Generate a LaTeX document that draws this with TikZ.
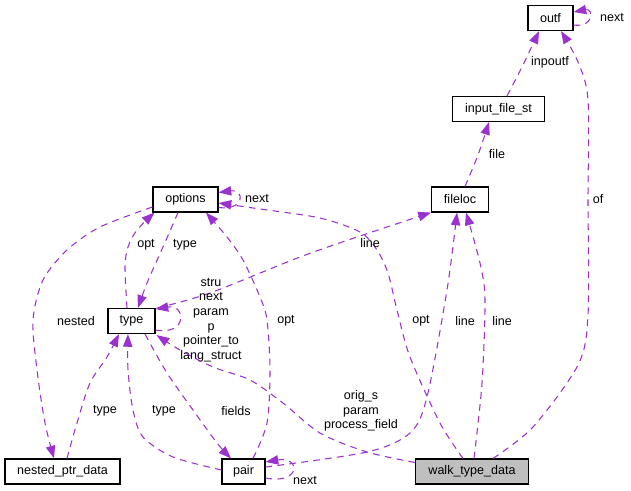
\documentclass[tikz,border=0pt]{standalone}
\usepackage{fontspec}
\setmainfont{Liberation Sans}
\usetikzlibrary{arrows.meta,calc}
\definecolor{edgec}{HTML}{9A32CD}
\definecolor{mainfill}{HTML}{BFBFBF}
\newcommand\lblfont{\fontsize{9.4}{11}\selectfont}
\begin{document}
\begin{tikzpicture}[x=0.75pt,y=-0.75pt,
  box/.style={draw=black, line width=0.85pt, minimum height=18.75pt, inner sep=0pt, font=\lblfont},
  use/.style={draw=edgec, line width=0.8pt, dash pattern=on 5pt off 4pt, -{Triangle[length=9.5pt,width=7pt]}},
  lab/.style={font=\lblfont, inner sep=0pt, align=center}]
\useasboundingbox (0,0) rectangle (631,491);
% nodes
\node[box, minimum width=33.75pt] (outf) at (550.5,18) {outf};
\node[box, minimum width=69pt] (input) at (498.5,109) {input\_file\_st};
\node[box, minimum width=42.75pt] (fileloc) at (460,199.5) {fileloc};
\node[box, minimum width=48.75pt] (options) at (185.5,199.5) {options};
\node[box, minimum width=35.25pt] (type) at (131.5,321) {type};
\node[box, minimum width=86.25pt] (nested) at (62.5,471.5) {nested\_ptr\_data};
\node[box, minimum width=32.25pt] (pair) at (243.5,471.5) {pair};
\node[box, minimum width=84.75pt, fill=mainfill] (walk) at (472,471.5) {walk\_type\_data};
% edges
\draw[use] ($(outf.east)+(0,7)$) .. controls (594,28) and (594,8) .. ($(outf.east)+(0,-6)$);
\node[lab] (l1) at (612,18) {next};
\draw[use] plot[smooth] coordinates {($(input.north)+(8.5,0)$) (523,65) ($(outf.south)+(-11.5,0)$)};
\node[lab] (l2) at (550,62) {inpoutf};
\draw[use] plot[smooth] coordinates {($(fileloc.north)+(5,0)$) (478,155) ($(input.south)+(-9.5,0)$)};
\node[lab] (l3) at (497,154) {file};
\draw[use] plot[smooth] coordinates {($(walk.north)+(21,0)$) (533,427) (578,365) (588,315) (588,200) (588,100) (578,62) ($(outf.south)+(10.5,0)$)};
\node[lab] (l4) at (598,199) {of};
\draw[use] plot[smooth] coordinates {($(walk.north)+(2,0)$) (482,383) (485,300) (480,263) ($(fileloc.south)+(6,0)$)};
\node[lab] (l5) at (502,321) {line};
\draw[use] plot[smooth] coordinates {($(pair.east)+(0,-4.5)$) (367,452) (410,433) (427,397) (447,290) ($(fileloc.south)+(-3,0)$)};
\node[lab] (l6) at (465,321) {line};
\draw[use] plot[smooth] coordinates {($(walk.north)+(-9,0)$) (440,423) (410,357) (397,310) (388,273) (377,250) (360,232) (320,218) (260,209) ($(options.east)+(0,3.5)$)};
\node[lab] (l7) at (421,321) {opt};
\draw[use] plot[smooth] coordinates {($(type.north east)+(2,0)$) (210,293) (300,257) (363,235) ($(fileloc.south west)+(0,0)$)};
\node[lab] (l8) at (370,243) {line};
\draw[use] ($(type.east)+(0,9)$) .. controls (187,336) and (187,304) .. ($(type.east)+(0,-12)$);
\node[lab] (l9) at (211,320) {stru\\next\\param\\p\\pointer\_to\\lang\_struct};
\draw[use] plot[smooth] coordinates {($(walk.west)+(0,-9)$) (367,452) (320,433) (283,403) (250,380) (213,367) (180,350) ($(type.south east)+(1,1)$)};
\node[lab] (l10) at (361,411) {orig\_s\\param\\process\_field};
\draw[use] plot[smooth] coordinates {($(options.south)+(-7.5,0)$) (163,247) (147,283) ($(type.north)+(6.5,0)$)};
\node[lab] (l11) at (185,245) {type};
\draw[use] plot[smooth] coordinates {($(type.north)+(-4.5,0)$) (125,267) (128,247) (137,230) ($(options.south west)+(2,0)$)};
\node[lab] (l12) at (146,245) {opt};
\draw[use] plot[smooth] coordinates {($(options.west)+(0,7.5)$) (100,227) (67,250) (43,280) (33,320) (37,370) (45,423) ($(nested.north)+(-8.5,0)$)};
\node[lab] (l13) at (76,321) {nested};
\draw[use] plot[smooth] coordinates {($(nested.north)+(4.5,0)$) (77,423) (90,383) (107,357) ($(type.south)+(-12.5,0)$)};
\node[lab] (l14) at (105,411) {type};
\draw[use] plot[smooth] coordinates {($(pair.west)+(0,-1.5)$) (173,457) (143,437) (133,410) (128,370) ($(type.south)+(-3.5,0)$)};
\node[lab] (l15) at (164,411) {type};
\draw[use] plot[smooth] coordinates {($(type.south)+(13.5,0)$) (167,373) (193,410) (217,443) ($(pair.north)+(-12.5,0)$)};
\node[lab] (l16) at (236,411) {fields};
\draw[use] plot[smooth] coordinates {($(pair.north)+(9.5,0)$) (267,423) (270,370) (267,320) (260,297) (243,260) (227,237) ($(options.south)+(20.5,0)$)};
\node[lab] (l17) at (286,321) {opt};
\draw[use] ($(options.east)+(0,8)$) .. controls (245,211) and (245,189) .. ($(options.east)+(0,-7)$);
\node[lab] (l18) at (257,199) {next};
\draw[use] ($(pair.east)+(0,6.5)$) .. controls (301,485) and (301,456) .. ($(pair.east)+(0,-9.5)$);
\node[lab] (l19) at (305,481) {next};
\end{tikzpicture}
\end{document}
